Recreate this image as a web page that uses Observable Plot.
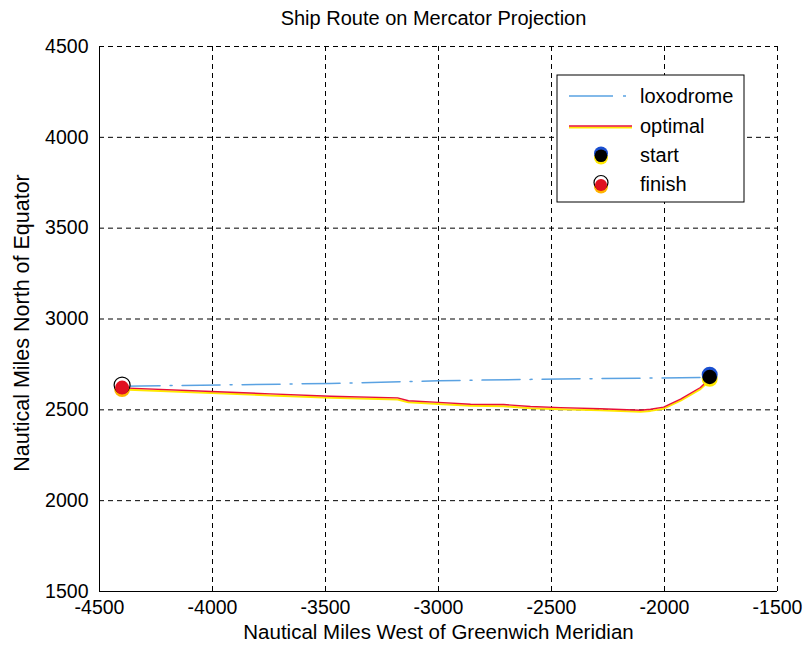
<!DOCTYPE html>
<html>
<head>
<meta charset="utf-8">
<script src="https://cdn.jsdelivr.net/npm/d3@7"></script>
<script src="https://cdn.jsdelivr.net/npm/@observablehq/plot@0.6"></script>
<style>
  html, body { margin: 0; padding: 0; background: #fff; }
  #chart { position: relative; width: 804px; height: 645px; }
</style>
</head>
<body>
<div id="chart"></div>
<script>
const titleText = "Ship Route on Mercator Projection";
const xLabel = "Nautical Miles West of Greenwich Meridian";
const yLabel = "Nautical Miles North of Equator";
const xTicks = [-4500, -4000, -3500, -3000, -2500, -2000, -1500];
const yTicks = [1500, 2000, 2500, 3000, 3500, 4000, 4500];

const loxX = [-4400, -3480, -3000, -2460, -1800];
const loxY = [2630, 2645, 2660, 2670, 2678];

const optX = [-4400, -4004, -3743, -3478, -3181, -3133, -3000, -2858, -2712, -2593, -2460, -2283, -2106, -2062, -2004, -1929, -1841, -1800];
const optY = [2621, 2601, 2588, 2575, 2566, 2550, 2541, 2531, 2529, 2518, 2512, 2506, 2498, 2503, 2515, 2559, 2623, 2672];

const startPt = {x: -1800, y: 2685};
const finishPt = {x: -4400, y: 2628};

const legendNames = ["loxodrome", "optimal", "start", "finish"];

const lox = loxX.map((x, i) => ({x, y: loxY[i]}));
const opt = optX.map((x, i) => ({x, y: optY[i]}));

const font = "Arial, 'Liberation Sans', Helvetica, sans-serif";

const plot = Plot.plot({
  width: 804,
  height: 645,
  marginLeft: 99,
  marginRight: 27,
  marginTop: 46,
  marginBottom: 54,
  style: {fontFamily: font, fontSize: "19.5px", color: "#000", background: "#fff"},
  x: {domain: [-4500, -1500]},
  y: {domain: [1500, 4500]},
  marks: [
    Plot.gridX(xTicks, {stroke: "#000", strokeOpacity: 1, strokeWidth: 1, strokeDasharray: "5,4"}),
    Plot.gridY(yTicks, {stroke: "#000", strokeOpacity: 1, strokeWidth: 1, strokeDasharray: "5,4"}),
    Plot.axisX(xTicks, {tickSize: 0, tickPadding: 9, fontSize: 19.5, label: null, tickFormat: d => String(d)}),
    Plot.axisY(yTicks, {tickSize: 0, tickPadding: 11, fontSize: 19.5, label: null, tickFormat: d => String(d)}),
    Plot.ruleX([-4500], {stroke: "#000", strokeWidth: 1}),
    Plot.ruleY([1500], {stroke: "#000", strokeWidth: 1}),
    // loxodrome
    Plot.line(lox, {x: "x", y: "y", stroke: "#5aa2e2", strokeWidth: 1.5, strokeDasharray: "38,10,2,10"}),
    // optimal (red over slightly offset yellow, as in the print)
    Plot.line(opt, {x: "x", y: "y", stroke: "#ffe800", strokeWidth: 2, dy: 1.6}),
    Plot.line(opt, {x: "x", y: "y", stroke: "#e8103a", strokeWidth: 1.4}),
    // start marker
    Plot.dot([startPt], {x: "x", y: "y", r: 8, fill: "#ffe800", dy: 2.5}),
    Plot.dot([startPt], {x: "x", y: "y", r: 8, fill: "#1a4fd0", dy: -1.5}),
    Plot.dot([startPt], {x: "x", y: "y", r: 7.2, fill: "#000", dy: 0.8}),
    // finish marker
    Plot.dot([finishPt], {x: "x", y: "y", r: 8, fill: "#ffb400", dy: 2.5}),
    Plot.dot([finishPt], {x: "x", y: "y", r: 8, fill: "#fff", stroke: "#000", strokeWidth: 1.2, dy: -1.5}),
    Plot.dot([finishPt], {x: "x", y: "y", r: 7, fill: "#e01020", dy: 1}),
    // texts
    Plot.text([titleText], {frameAnchor: "top", lineAnchor: "middle", dy: -28, dx: -5, fontSize: 20, fill: "#000"}),
    Plot.text([xLabel], {frameAnchor: "bottom", lineAnchor: "middle", dy: 41, fontSize: 20.5, fill: "#000"}),
    Plot.text([yLabel], {frameAnchor: "left", textAnchor: "middle", lineAnchor: "middle", dx: -77, dy: 4, rotate: -90, fontSize: 21.5, fill: "#000"})
  ]
});

document.getElementById("chart").appendChild(plot);

// Legend inside the plot area (upper right)
const svg = d3.select(plot);
const lg = svg.append("g").attr("font-family", font).attr("font-size", 20).attr("text-anchor", "start");
const bx = 557, by = 75, bw = 187, bh = 127;
lg.append("rect").attr("x", bx).attr("y", by).attr("width", bw).attr("height", bh)
  .attr("fill", "#fff").attr("stroke", "#000").attr("stroke-width", 1);
const rowY = [96, 126, 155, 184];
const sx0 = 569, sx1 = 632, tx = 640;
// loxodrome sample
lg.append("line").attr("x1", sx0).attr("x2", sx1).attr("y1", rowY[0]).attr("y2", rowY[0])
  .attr("stroke", "#5aa2e2").attr("stroke-width", 1.5).attr("stroke-dasharray", "44,10,3,10");
// optimal sample
lg.append("line").attr("x1", sx0).attr("x2", sx1).attr("y1", rowY[1] + 1.5).attr("y2", rowY[1] + 1.5)
  .attr("stroke", "#ffe800").attr("stroke-width", 2);
lg.append("line").attr("x1", sx0).attr("x2", sx1).attr("y1", rowY[1]).attr("y2", rowY[1])
  .attr("stroke", "#e8103a").attr("stroke-width", 1.4);
// start sample
const mx = 601;
lg.append("circle").attr("cx", mx).attr("cy", rowY[2] + 2.5).attr("r", 7).attr("fill", "#ffe800");
lg.append("circle").attr("cx", mx).attr("cy", rowY[2] - 1.5).attr("r", 7).attr("fill", "#1a4fd0");
lg.append("circle").attr("cx", mx).attr("cy", rowY[2] + 0.8).attr("r", 6.3).attr("fill", "#000");
// finish sample
lg.append("circle").attr("cx", mx).attr("cy", rowY[3] + 2.5).attr("r", 7).attr("fill", "#ffb400");
lg.append("circle").attr("cx", mx).attr("cy", rowY[3] - 1.5).attr("r", 7).attr("fill", "#fff").attr("stroke", "#000").attr("stroke-width", 1.2);
lg.append("circle").attr("cx", mx).attr("cy", rowY[3] + 1).attr("r", 6).attr("fill", "#e01020");
legendNames.forEach((name, i) => {
  lg.append("text").attr("x", tx).attr("y", rowY[i]).attr("dy", "0.35em").attr("fill", "#000").text(name);
});
</script>
</body>
</html>
